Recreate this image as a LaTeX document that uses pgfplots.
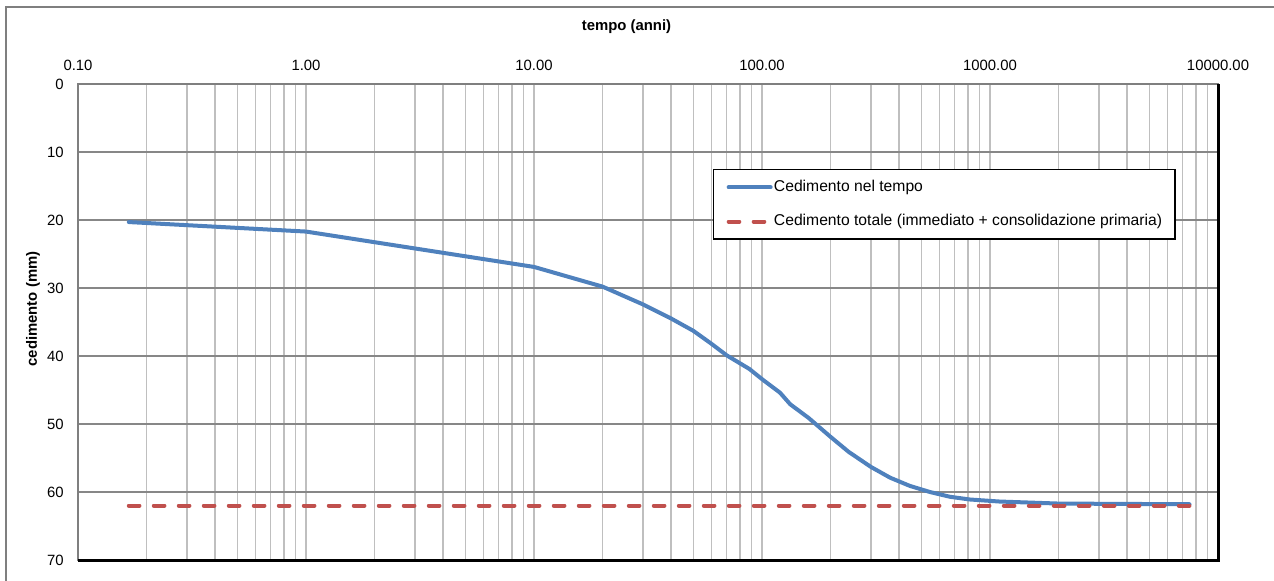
\documentclass[border=0pt]{standalone}
\usepackage{fontspec}
\setmainfont{Liberation Sans}
\usepackage{pgfplots}
\pgfplotsset{compat=1.18}
\definecolor{serieblue}{HTML}{4F81BD}
\definecolor{seriered}{HTML}{C0504D}
\definecolor{gridmaj}{HTML}{878787}
\definecolor{gridmin}{HTML}{BFBFBF}
\definecolor{axgray}{HTML}{7F7F7F}
\begin{document}
\begin{tikzpicture}
\useasboundingbox (-58.5bp,-15.75bp) rectangle (897bp,420bp);
\draw[axgray, line width=1.2bp] (-54bp,-20bp) -- (-54bp,414.75bp) -- (900bp,414.75bp);
\begin{axis}[
  at={(0,0)}, anchor=south west,
  scale only axis, width=855bp, height=357bp,
  xmode=log, xmin=0.1, xmax=10000,
  ymin=0, ymax=70, y dir=reverse,
  xtick={0.1,1,10,100,1000,10000},
  xticklabels={0.10,1.00,10.00,100.00,1000.00,10000.00},
  minor xtick={0.2,0.3,0.4,0.5,0.6,0.7,0.8,0.9,2,3,4,5,6,7,8,9,20,30,40,50,60,70,80,90,200,300,400,500,600,700,800,900,2000,3000,4000,5000,6000,7000,8000,9000},
  ytick={0,10,20,30,40,50,60,70},
  xticklabel pos=top,
  major tick length=0pt, minor tick length=0pt,
  xmajorgrids=true, xminorgrids=true, ymajorgrids=true,
  x grid style={gridmin, line width=1.2bp},
  minor x grid style={gridmin, line width=1.2bp},
  y grid style={gridmaj, line width=1bp},
  axis line style={axgray, line width=1.5bp},
  /pgf/number format/assume math mode=true,
  ticklabel style={font=\fontsize{11.2}{13}\selectfont},
  xticklabel style={inner sep=0pt, anchor=south, yshift=9.5bp},
  yticklabel style={inner sep=0pt, anchor=east, xshift=-10.5bp},
  legend style={at={(0.557,0.8214)}, anchor=north west, draw=black, line width=1bp,
    font=\fontsize{11.8}{13}\selectfont, inner xsep=9.75bp, inner ysep=7.7bp,
    row sep=14.7bp, column sep=1bp,
    nodes={inner sep=0pt, anchor=west, text height=8.4bp, text depth=2.6bp}},
  legend cell align=left,
  legend image code/.code={\draw[#1] (0bp,0bp) -- (31.5bp,0bp);},
  clip=false,
]
\addplot[serieblue, line width=3bp, line join=round, line cap=round] coordinates {
(0.167,20.3) (1,21.7) (10,26.9) (20,29.8) (30,32.4) (40,34.5) (50,36.3)
(60,38.2) (70,39.9) (88,41.9) (100,43.4) (120,45.4) (133,47.1) (160,49.1)
(200,51.9) (240,54.1) (300,56.3) (365,57.9) (445,59.1) (545,60.0)
(667,60.7) (815,61.1) (1100,61.4) (2000,61.7) (7500,61.8)
};
\addlegendentry{Cedimento nel tempo}
\addplot[seriered, line width=3bp, line cap=round, dash pattern=on 8bp off 10.75bp] coordinates {
(0.167,62.0) (7500,62.0)
};
\addlegendentry{Cedimento totale (immediato + consolidazione primaria)}
\end{axis}
\draw[black, line width=2.25bp] (0,0) -- (855bp,0) -- (855bp,357bp);
\node[font=\bfseries\fontsize{11.2}{13}\selectfont] at (411.4bp,400bp) {tempo (anni)};
\node[font=\bfseries\fontsize{11.2}{13}\selectfont, rotate=90] at (-33.75bp,188.25bp) {cedimento (mm)};
\end{tikzpicture}
\end{document}
